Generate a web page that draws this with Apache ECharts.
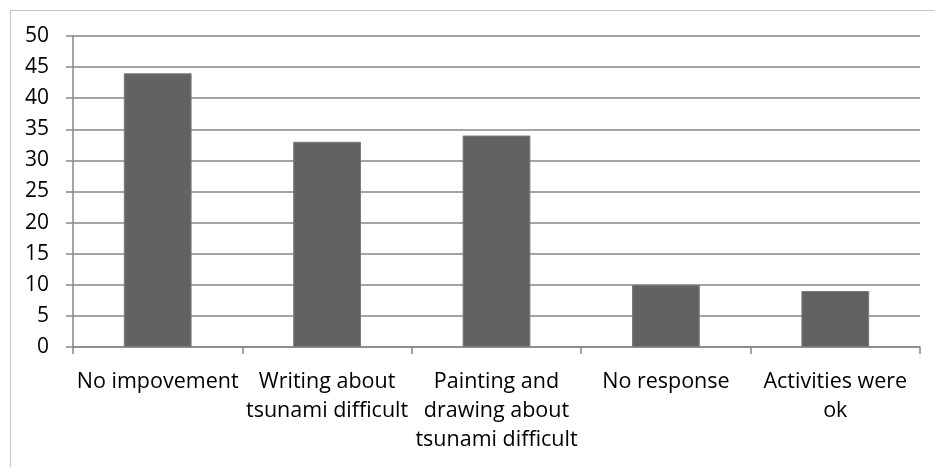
<!DOCTYPE html>
<html>
<head>
<meta charset="utf-8">
<script src="https://cdn.jsdelivr.net/npm/echarts@6/dist/echarts.min.js"></script>
<style>
  html, body { margin: 0; padding: 0; background: #fff; }
  #chart { width: 935px; height: 467px; }
</style>
</head>
<body>
<div id="chart"></div>
<script>
// Responses about the activities (counts per category)
const categories = [
  'No impovement',
  'Writing about\ntsunami difficult',
  'Painting and\ndrawing about\ntsunami difficult',
  'No response',
  'Activities were\nok'
];
const counts = [44, 33, 34, 10, 9];
const yTicks = { min: 0, max: 50, interval: 5 };

const FONT = '"Open Sans", sans-serif';
const chart = echarts.init(document.getElementById('chart'));

chart.setOption({
  animation: false,
  backgroundColor: '#ffffff',
  graphic: [{
    type: 'rect',
    left: 8, top: 8,
    shape: { width: 940, height: 470 },
    style: { fill: 'none', stroke: '#c4c4c4', lineWidth: 1 },
    silent: true
  }],
  grid: { left: 73, right: 15, top: 36, bottom: 120, containLabel: false },
  xAxis: {
    type: 'category',
    data: categories,
    axisLine: { lineStyle: { color: '#868686', width: 1.5 } },
    axisTick: { show: true, alignWithLabel: false, length: 7, lineStyle: { color: '#868686', width: 1.5 } },
    axisLabel: {
      interval: 0, margin: 20, color: '#000', fontFamily: FONT, fontSize: 21.5, lineHeight: 29
    },
    splitLine: { show: false }
  },
  yAxis: {
    type: 'value',
    min: yTicks.min, max: yTicks.max, interval: yTicks.interval,
    axisLine: { show: true, lineStyle: { color: '#868686', width: 1.5 } },
    axisTick: { show: true, length: 7, lineStyle: { color: '#868686', width: 1.5 } },
    axisLabel: { margin: 24, color: '#000', fontFamily: FONT, fontSize: 21 },
    splitLine: { show: true, lineStyle: { color: '#868686', width: 1.5 } }
  },
  series: [{
    type: 'bar',
    data: counts,
    barWidth: '40%',
    itemStyle: { color: '#626262', borderColor: '#7a7a7a', borderWidth: 1 }
  }]
});
</script>
</body>
</html>
